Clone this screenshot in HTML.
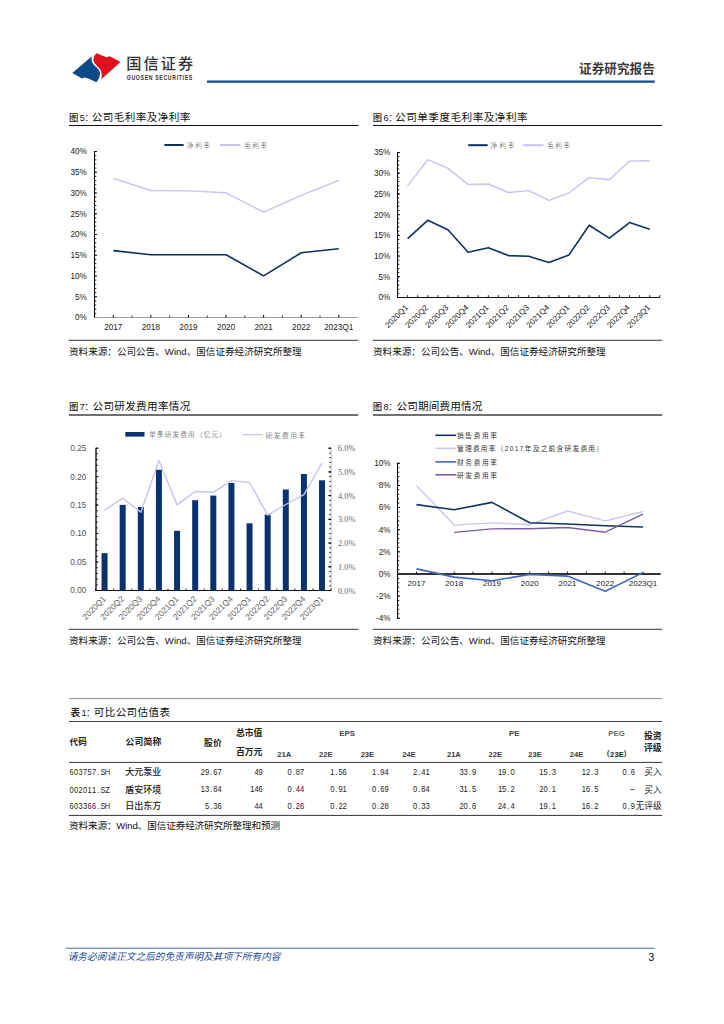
<!DOCTYPE html>
<html lang="zh-CN"><head><meta charset="utf-8"><title>国信证券 证券研究报告</title>
<style>
html,body{margin:0;padding:0;background:#fff;}
body{width:724px;height:1024px;overflow:hidden;position:relative;}
svg{position:absolute;left:0;top:0;display:block;}
text{white-space:pre;}
</style></head><body>
<svg width="724" height="1024" viewBox="0 0 724 1024">
<path d="M72.3,72.9 L91.9,56.3 C91.2,59 91.6,61.8 93.2,64 C95,66.3 98.2,68.2 99.6,71.4 C100.6,74.2 99.6,78.5 96.3,82.2 L89.6,79 L84.6,77.6 L82,78.6 Z" fill="#0d4a8a"/>
<path d="M96.6,53.3 L106.4,57.2 L109.8,56.2 L119.6,61.4 L120,62.6 L101,79.6 C102.2,76.6 102,72.6 100.6,70.2 C99.2,67.8 95.8,65.2 94.2,62.6 C92.7,59.9 93.6,55.6 96.6,53.3 Z" fill="#e0101e"/>
<text x="126.2" y="69.4" font-size="15.2" text-anchor="start" fill="#333" font-family="'Liberation Sans','Noto Sans CJK SC',sans-serif" font-weight="500" textLength="67" lengthAdjust="spacing">国信证券</text>
<text x="126.8" y="79.9" font-size="6.9" text-anchor="start" fill="#333" font-family="'Liberation Sans','Noto Sans CJK SC',sans-serif" font-weight="bold" textLength="66.1" lengthAdjust="spacingAndGlyphs" letter-spacing="0.9">GUOSEN SECURITIES</text>
<line x1="207" y1="81.6" x2="654.8" y2="81.6" stroke="#134a8e" stroke-width="2.2"/>
<text x="579.1" y="73.4" font-size="12.6" text-anchor="start" fill="#3a3a3a" font-family="'Liberation Sans','Noto Sans CJK SC',sans-serif" font-weight="bold" textLength="75.7" lengthAdjust="spacing">证券研究报告</text>
<text x="69" y="121.2" font-size="9.4" text-anchor="start" fill="#222" font-family="'Liberation Sans','Noto Sans CJK SC',sans-serif" font-weight="500">图</text>
<text x="79.8" y="121.2" font-size="9" text-anchor="start" fill="#111" font-family="'Liberation Sans','Noto Sans CJK SC',sans-serif" font-weight="normal">5</text>
<text x="84.5" y="121.2" font-size="9" text-anchor="start" fill="#111" font-family="'Liberation Sans','Noto Sans CJK SC',sans-serif" font-weight="normal">：</text>
<text x="91.8" y="121.2" font-size="10.6" text-anchor="start" fill="#111" font-family="'Liberation Sans','Noto Sans CJK SC',sans-serif" font-weight="normal" textLength="98.5" lengthAdjust="spacing">公司毛利率及净利率</text>
<line x1="69" y1="125.5" x2="358.5" y2="125.5" stroke="#111" stroke-width="1.2"/>
<line x1="164.4" y1="145" x2="183.6" y2="145" stroke="#0f2f5f" stroke-width="2"/>
<text x="187" y="148" font-size="6.7" text-anchor="start" fill="#333" font-family="'Liberation Sans','Noto Sans CJK SC',sans-serif" font-weight="300" textLength="23" lengthAdjust="spacing">净利率</text>
<line x1="219.9" y1="145" x2="240.3" y2="145" stroke="#c4c4f0" stroke-width="2"/>
<text x="244" y="148" font-size="6.7" text-anchor="start" fill="#333" font-family="'Liberation Sans','Noto Sans CJK SC',sans-serif" font-weight="300" textLength="23" lengthAdjust="spacing">毛利率</text>
<line x1="94.5" y1="151.5" x2="94.5" y2="317.5" stroke="#000" stroke-width="1"/>
<line x1="94.5" y1="151.5" x2="96.3" y2="151.5" stroke="#000" stroke-width="0.9"/>
<line x1="94.5" y1="155.65" x2="96.3" y2="155.65" stroke="#000" stroke-width="0.9"/>
<line x1="94.5" y1="159.8" x2="96.3" y2="159.8" stroke="#000" stroke-width="0.9"/>
<line x1="94.5" y1="163.95" x2="96.3" y2="163.95" stroke="#000" stroke-width="0.9"/>
<line x1="94.5" y1="168.1" x2="96.3" y2="168.1" stroke="#000" stroke-width="0.9"/>
<line x1="94.5" y1="172.25" x2="96.3" y2="172.25" stroke="#000" stroke-width="0.9"/>
<line x1="94.5" y1="176.4" x2="96.3" y2="176.4" stroke="#000" stroke-width="0.9"/>
<line x1="94.5" y1="180.55" x2="96.3" y2="180.55" stroke="#000" stroke-width="0.9"/>
<line x1="94.5" y1="184.7" x2="96.3" y2="184.7" stroke="#000" stroke-width="0.9"/>
<line x1="94.5" y1="188.85" x2="96.3" y2="188.85" stroke="#000" stroke-width="0.9"/>
<line x1="94.5" y1="193" x2="96.3" y2="193" stroke="#000" stroke-width="0.9"/>
<line x1="94.5" y1="197.15" x2="96.3" y2="197.15" stroke="#000" stroke-width="0.9"/>
<line x1="94.5" y1="201.3" x2="96.3" y2="201.3" stroke="#000" stroke-width="0.9"/>
<line x1="94.5" y1="205.45" x2="96.3" y2="205.45" stroke="#000" stroke-width="0.9"/>
<line x1="94.5" y1="209.6" x2="96.3" y2="209.6" stroke="#000" stroke-width="0.9"/>
<line x1="94.5" y1="213.75" x2="96.3" y2="213.75" stroke="#000" stroke-width="0.9"/>
<line x1="94.5" y1="217.9" x2="96.3" y2="217.9" stroke="#000" stroke-width="0.9"/>
<line x1="94.5" y1="222.05" x2="96.3" y2="222.05" stroke="#000" stroke-width="0.9"/>
<line x1="94.5" y1="226.2" x2="96.3" y2="226.2" stroke="#000" stroke-width="0.9"/>
<line x1="94.5" y1="230.35" x2="96.3" y2="230.35" stroke="#000" stroke-width="0.9"/>
<line x1="94.5" y1="234.5" x2="96.3" y2="234.5" stroke="#000" stroke-width="0.9"/>
<line x1="94.5" y1="238.65" x2="96.3" y2="238.65" stroke="#000" stroke-width="0.9"/>
<line x1="94.5" y1="242.8" x2="96.3" y2="242.8" stroke="#000" stroke-width="0.9"/>
<line x1="94.5" y1="246.95" x2="96.3" y2="246.95" stroke="#000" stroke-width="0.9"/>
<line x1="94.5" y1="251.1" x2="96.3" y2="251.1" stroke="#000" stroke-width="0.9"/>
<line x1="94.5" y1="255.25" x2="96.3" y2="255.25" stroke="#000" stroke-width="0.9"/>
<line x1="94.5" y1="259.4" x2="96.3" y2="259.4" stroke="#000" stroke-width="0.9"/>
<line x1="94.5" y1="263.55" x2="96.3" y2="263.55" stroke="#000" stroke-width="0.9"/>
<line x1="94.5" y1="267.7" x2="96.3" y2="267.7" stroke="#000" stroke-width="0.9"/>
<line x1="94.5" y1="271.85" x2="96.3" y2="271.85" stroke="#000" stroke-width="0.9"/>
<line x1="94.5" y1="276" x2="96.3" y2="276" stroke="#000" stroke-width="0.9"/>
<line x1="94.5" y1="280.15" x2="96.3" y2="280.15" stroke="#000" stroke-width="0.9"/>
<line x1="94.5" y1="284.3" x2="96.3" y2="284.3" stroke="#000" stroke-width="0.9"/>
<line x1="94.5" y1="288.45" x2="96.3" y2="288.45" stroke="#000" stroke-width="0.9"/>
<line x1="94.5" y1="292.6" x2="96.3" y2="292.6" stroke="#000" stroke-width="0.9"/>
<line x1="94.5" y1="296.75" x2="96.3" y2="296.75" stroke="#000" stroke-width="0.9"/>
<line x1="94.5" y1="300.9" x2="96.3" y2="300.9" stroke="#000" stroke-width="0.9"/>
<line x1="94.5" y1="305.05" x2="96.3" y2="305.05" stroke="#000" stroke-width="0.9"/>
<line x1="94.5" y1="309.2" x2="96.3" y2="309.2" stroke="#000" stroke-width="0.9"/>
<line x1="94.5" y1="313.35" x2="96.3" y2="313.35" stroke="#000" stroke-width="0.9"/>
<line x1="94.5" y1="317.5" x2="96.3" y2="317.5" stroke="#000" stroke-width="0.9"/>
<line x1="94" y1="151.5" x2="96.9" y2="151.5" stroke="#000" stroke-width="1"/>
<line x1="94" y1="172.25" x2="96.9" y2="172.25" stroke="#000" stroke-width="1"/>
<line x1="94" y1="193" x2="96.9" y2="193" stroke="#000" stroke-width="1"/>
<line x1="94" y1="213.75" x2="96.9" y2="213.75" stroke="#000" stroke-width="1"/>
<line x1="94" y1="234.5" x2="96.9" y2="234.5" stroke="#000" stroke-width="1"/>
<line x1="94" y1="255.25" x2="96.9" y2="255.25" stroke="#000" stroke-width="1"/>
<line x1="94" y1="276" x2="96.9" y2="276" stroke="#000" stroke-width="1"/>
<line x1="94" y1="296.75" x2="96.9" y2="296.75" stroke="#000" stroke-width="1"/>
<line x1="94" y1="317.5" x2="96.9" y2="317.5" stroke="#000" stroke-width="1"/>
<line x1="94.5" y1="317.5" x2="357.6" y2="317.5" stroke="#9a9a9a" stroke-width="1"/>
<line x1="132.09" y1="317.5" x2="132.09" y2="315.5" stroke="#000" stroke-width="0.8"/>
<line x1="169.67" y1="317.5" x2="169.67" y2="315.5" stroke="#000" stroke-width="0.8"/>
<line x1="207.26" y1="317.5" x2="207.26" y2="315.5" stroke="#000" stroke-width="0.8"/>
<line x1="244.84" y1="317.5" x2="244.84" y2="315.5" stroke="#000" stroke-width="0.8"/>
<line x1="282.43" y1="317.5" x2="282.43" y2="315.5" stroke="#000" stroke-width="0.8"/>
<line x1="320.01" y1="317.5" x2="320.01" y2="315.5" stroke="#000" stroke-width="0.8"/>
<line x1="113.29" y1="317.5" x2="113.29" y2="315" stroke="#000" stroke-width="1"/>
<line x1="150.88" y1="317.5" x2="150.88" y2="315" stroke="#000" stroke-width="1"/>
<line x1="188.46" y1="317.5" x2="188.46" y2="315" stroke="#000" stroke-width="1"/>
<line x1="226.05" y1="317.5" x2="226.05" y2="315" stroke="#000" stroke-width="1"/>
<line x1="263.64" y1="317.5" x2="263.64" y2="315" stroke="#000" stroke-width="1"/>
<line x1="301.22" y1="317.5" x2="301.22" y2="315" stroke="#000" stroke-width="1"/>
<line x1="338.81" y1="317.5" x2="338.81" y2="315" stroke="#000" stroke-width="1"/>
<text x="86.9" y="320.4" font-size="8.2" text-anchor="end" fill="#222" font-family="'Liberation Sans','Noto Sans CJK SC',sans-serif" font-weight="normal">0%</text>
<text x="86.9" y="299.65" font-size="8.2" text-anchor="end" fill="#222" font-family="'Liberation Sans','Noto Sans CJK SC',sans-serif" font-weight="normal">5%</text>
<text x="86.9" y="278.9" font-size="8.2" text-anchor="end" fill="#222" font-family="'Liberation Sans','Noto Sans CJK SC',sans-serif" font-weight="normal">10%</text>
<text x="86.9" y="258.15" font-size="8.2" text-anchor="end" fill="#222" font-family="'Liberation Sans','Noto Sans CJK SC',sans-serif" font-weight="normal">15%</text>
<text x="86.9" y="237.4" font-size="8.2" text-anchor="end" fill="#222" font-family="'Liberation Sans','Noto Sans CJK SC',sans-serif" font-weight="normal">20%</text>
<text x="86.9" y="216.65" font-size="8.2" text-anchor="end" fill="#222" font-family="'Liberation Sans','Noto Sans CJK SC',sans-serif" font-weight="normal">25%</text>
<text x="86.9" y="195.9" font-size="8.2" text-anchor="end" fill="#222" font-family="'Liberation Sans','Noto Sans CJK SC',sans-serif" font-weight="normal">30%</text>
<text x="86.9" y="175.15" font-size="8.2" text-anchor="end" fill="#222" font-family="'Liberation Sans','Noto Sans CJK SC',sans-serif" font-weight="normal">35%</text>
<text x="86.9" y="154.4" font-size="8.2" text-anchor="end" fill="#222" font-family="'Liberation Sans','Noto Sans CJK SC',sans-serif" font-weight="normal">40%</text>
<text x="113.29" y="329.5" font-size="8.2" text-anchor="middle" fill="#222" font-family="'Liberation Sans','Noto Sans CJK SC',sans-serif" font-weight="normal">2017</text>
<text x="150.88" y="329.5" font-size="8.2" text-anchor="middle" fill="#222" font-family="'Liberation Sans','Noto Sans CJK SC',sans-serif" font-weight="normal">2018</text>
<text x="188.46" y="329.5" font-size="8.2" text-anchor="middle" fill="#222" font-family="'Liberation Sans','Noto Sans CJK SC',sans-serif" font-weight="normal">2019</text>
<text x="226.05" y="329.5" font-size="8.2" text-anchor="middle" fill="#222" font-family="'Liberation Sans','Noto Sans CJK SC',sans-serif" font-weight="normal">2020</text>
<text x="263.64" y="329.5" font-size="8.2" text-anchor="middle" fill="#222" font-family="'Liberation Sans','Noto Sans CJK SC',sans-serif" font-weight="normal">2021</text>
<text x="301.22" y="329.5" font-size="8.2" text-anchor="middle" fill="#222" font-family="'Liberation Sans','Noto Sans CJK SC',sans-serif" font-weight="normal">2022</text>
<text x="338.81" y="329.5" font-size="8.2" text-anchor="middle" fill="#222" font-family="'Liberation Sans','Noto Sans CJK SC',sans-serif" font-weight="normal">2023Q1</text>
<polyline points="113.29,178.4 150.88,190.5 188.46,190.9 226.05,192.8 263.64,212.1 301.22,195.4 338.81,180.4" fill="none" stroke="#c4c4f0" stroke-width="1.4" stroke-linejoin="round"/>
<polyline points="113.29,250.6 150.88,254.7 188.46,254.7 226.05,254.7 263.64,275.9 301.22,252.8 338.81,248.7" fill="none" stroke="#0f2f5f" stroke-width="1.6" stroke-linejoin="round"/>
<line x1="68.7" y1="340.3" x2="358.2" y2="340.3" stroke="#333" stroke-width="1"/>
<text x="69" y="355" font-size="9.6" text-anchor="start" fill="#111" font-family="'Liberation Sans','Noto Sans CJK SC',sans-serif" font-weight="normal" textLength="232.7" lengthAdjust="spacing">资料来源：公司公告、Wind、国信证券经济研究所整理</text>
<text x="372.7" y="121.2" font-size="9.4" text-anchor="start" fill="#222" font-family="'Liberation Sans','Noto Sans CJK SC',sans-serif" font-weight="500">图</text>
<text x="383.5" y="121.2" font-size="9" text-anchor="start" fill="#111" font-family="'Liberation Sans','Noto Sans CJK SC',sans-serif" font-weight="normal">6</text>
<text x="388.2" y="121.2" font-size="9" text-anchor="start" fill="#111" font-family="'Liberation Sans','Noto Sans CJK SC',sans-serif" font-weight="normal">：</text>
<text x="395.1" y="121.2" font-size="10.6" text-anchor="start" fill="#111" font-family="'Liberation Sans','Noto Sans CJK SC',sans-serif" font-weight="normal" textLength="132.5" lengthAdjust="spacing">公司单季度毛利率及净利率</text>
<line x1="373" y1="125.5" x2="662.1" y2="125.5" stroke="#111" stroke-width="1.2"/>
<line x1="468.2" y1="145.2" x2="487.6" y2="145.2" stroke="#0f2f5f" stroke-width="2"/>
<text x="490.5" y="148.2" font-size="6.7" text-anchor="start" fill="#333" font-family="'Liberation Sans','Noto Sans CJK SC',sans-serif" font-weight="300" textLength="24" lengthAdjust="spacing">净利率</text>
<line x1="523.1" y1="145.2" x2="543.5" y2="145.2" stroke="#c4c4f0" stroke-width="2"/>
<text x="547" y="148.2" font-size="6.7" text-anchor="start" fill="#333" font-family="'Liberation Sans','Noto Sans CJK SC',sans-serif" font-weight="300" textLength="23" lengthAdjust="spacing">毛利率</text>
<line x1="397.5" y1="152.5" x2="397.5" y2="297.5" stroke="#000" stroke-width="1"/>
<line x1="397.5" y1="152.5" x2="399.3" y2="152.5" stroke="#000" stroke-width="0.9"/>
<line x1="397.5" y1="156.64" x2="399.3" y2="156.64" stroke="#000" stroke-width="0.9"/>
<line x1="397.5" y1="160.79" x2="399.3" y2="160.79" stroke="#000" stroke-width="0.9"/>
<line x1="397.5" y1="164.93" x2="399.3" y2="164.93" stroke="#000" stroke-width="0.9"/>
<line x1="397.5" y1="169.07" x2="399.3" y2="169.07" stroke="#000" stroke-width="0.9"/>
<line x1="397.5" y1="173.21" x2="399.3" y2="173.21" stroke="#000" stroke-width="0.9"/>
<line x1="397.5" y1="177.36" x2="399.3" y2="177.36" stroke="#000" stroke-width="0.9"/>
<line x1="397.5" y1="181.5" x2="399.3" y2="181.5" stroke="#000" stroke-width="0.9"/>
<line x1="397.5" y1="185.64" x2="399.3" y2="185.64" stroke="#000" stroke-width="0.9"/>
<line x1="397.5" y1="189.79" x2="399.3" y2="189.79" stroke="#000" stroke-width="0.9"/>
<line x1="397.5" y1="193.93" x2="399.3" y2="193.93" stroke="#000" stroke-width="0.9"/>
<line x1="397.5" y1="198.07" x2="399.3" y2="198.07" stroke="#000" stroke-width="0.9"/>
<line x1="397.5" y1="202.21" x2="399.3" y2="202.21" stroke="#000" stroke-width="0.9"/>
<line x1="397.5" y1="206.36" x2="399.3" y2="206.36" stroke="#000" stroke-width="0.9"/>
<line x1="397.5" y1="210.5" x2="399.3" y2="210.5" stroke="#000" stroke-width="0.9"/>
<line x1="397.5" y1="214.64" x2="399.3" y2="214.64" stroke="#000" stroke-width="0.9"/>
<line x1="397.5" y1="218.79" x2="399.3" y2="218.79" stroke="#000" stroke-width="0.9"/>
<line x1="397.5" y1="222.93" x2="399.3" y2="222.93" stroke="#000" stroke-width="0.9"/>
<line x1="397.5" y1="227.07" x2="399.3" y2="227.07" stroke="#000" stroke-width="0.9"/>
<line x1="397.5" y1="231.21" x2="399.3" y2="231.21" stroke="#000" stroke-width="0.9"/>
<line x1="397.5" y1="235.36" x2="399.3" y2="235.36" stroke="#000" stroke-width="0.9"/>
<line x1="397.5" y1="239.5" x2="399.3" y2="239.5" stroke="#000" stroke-width="0.9"/>
<line x1="397.5" y1="243.64" x2="399.3" y2="243.64" stroke="#000" stroke-width="0.9"/>
<line x1="397.5" y1="247.79" x2="399.3" y2="247.79" stroke="#000" stroke-width="0.9"/>
<line x1="397.5" y1="251.93" x2="399.3" y2="251.93" stroke="#000" stroke-width="0.9"/>
<line x1="397.5" y1="256.07" x2="399.3" y2="256.07" stroke="#000" stroke-width="0.9"/>
<line x1="397.5" y1="260.21" x2="399.3" y2="260.21" stroke="#000" stroke-width="0.9"/>
<line x1="397.5" y1="264.36" x2="399.3" y2="264.36" stroke="#000" stroke-width="0.9"/>
<line x1="397.5" y1="268.5" x2="399.3" y2="268.5" stroke="#000" stroke-width="0.9"/>
<line x1="397.5" y1="272.64" x2="399.3" y2="272.64" stroke="#000" stroke-width="0.9"/>
<line x1="397.5" y1="276.79" x2="399.3" y2="276.79" stroke="#000" stroke-width="0.9"/>
<line x1="397.5" y1="280.93" x2="399.3" y2="280.93" stroke="#000" stroke-width="0.9"/>
<line x1="397.5" y1="285.07" x2="399.3" y2="285.07" stroke="#000" stroke-width="0.9"/>
<line x1="397.5" y1="289.21" x2="399.3" y2="289.21" stroke="#000" stroke-width="0.9"/>
<line x1="397.5" y1="293.36" x2="399.3" y2="293.36" stroke="#000" stroke-width="0.9"/>
<line x1="397.5" y1="297.5" x2="399.3" y2="297.5" stroke="#000" stroke-width="0.9"/>
<line x1="397" y1="152.5" x2="399.9" y2="152.5" stroke="#000" stroke-width="1"/>
<line x1="397" y1="173.21" x2="399.9" y2="173.21" stroke="#000" stroke-width="1"/>
<line x1="397" y1="193.93" x2="399.9" y2="193.93" stroke="#000" stroke-width="1"/>
<line x1="397" y1="214.64" x2="399.9" y2="214.64" stroke="#000" stroke-width="1"/>
<line x1="397" y1="235.36" x2="399.9" y2="235.36" stroke="#000" stroke-width="1"/>
<line x1="397" y1="256.07" x2="399.9" y2="256.07" stroke="#000" stroke-width="1"/>
<line x1="397" y1="276.79" x2="399.9" y2="276.79" stroke="#000" stroke-width="1"/>
<line x1="397" y1="297.5" x2="399.9" y2="297.5" stroke="#000" stroke-width="1"/>
<line x1="397.5" y1="297.5" x2="659.8" y2="297.5" stroke="#111" stroke-width="1.1"/>
<line x1="397.5" y1="297.5" x2="397.5" y2="295.2" stroke="#000" stroke-width="0.9"/>
<line x1="407.59" y1="297.5" x2="407.59" y2="295.2" stroke="#000" stroke-width="0.9"/>
<line x1="417.68" y1="297.5" x2="417.68" y2="295.2" stroke="#000" stroke-width="0.9"/>
<line x1="427.77" y1="297.5" x2="427.77" y2="295.2" stroke="#000" stroke-width="0.9"/>
<line x1="437.85" y1="297.5" x2="437.85" y2="295.2" stroke="#000" stroke-width="0.9"/>
<line x1="447.94" y1="297.5" x2="447.94" y2="295.2" stroke="#000" stroke-width="0.9"/>
<line x1="458.03" y1="297.5" x2="458.03" y2="295.2" stroke="#000" stroke-width="0.9"/>
<line x1="468.12" y1="297.5" x2="468.12" y2="295.2" stroke="#000" stroke-width="0.9"/>
<line x1="478.21" y1="297.5" x2="478.21" y2="295.2" stroke="#000" stroke-width="0.9"/>
<line x1="488.3" y1="297.5" x2="488.3" y2="295.2" stroke="#000" stroke-width="0.9"/>
<line x1="498.38" y1="297.5" x2="498.38" y2="295.2" stroke="#000" stroke-width="0.9"/>
<line x1="508.47" y1="297.5" x2="508.47" y2="295.2" stroke="#000" stroke-width="0.9"/>
<line x1="518.56" y1="297.5" x2="518.56" y2="295.2" stroke="#000" stroke-width="0.9"/>
<line x1="528.65" y1="297.5" x2="528.65" y2="295.2" stroke="#000" stroke-width="0.9"/>
<line x1="538.74" y1="297.5" x2="538.74" y2="295.2" stroke="#000" stroke-width="0.9"/>
<line x1="548.83" y1="297.5" x2="548.83" y2="295.2" stroke="#000" stroke-width="0.9"/>
<line x1="558.92" y1="297.5" x2="558.92" y2="295.2" stroke="#000" stroke-width="0.9"/>
<line x1="569" y1="297.5" x2="569" y2="295.2" stroke="#000" stroke-width="0.9"/>
<line x1="579.09" y1="297.5" x2="579.09" y2="295.2" stroke="#000" stroke-width="0.9"/>
<line x1="589.18" y1="297.5" x2="589.18" y2="295.2" stroke="#000" stroke-width="0.9"/>
<line x1="599.27" y1="297.5" x2="599.27" y2="295.2" stroke="#000" stroke-width="0.9"/>
<line x1="609.36" y1="297.5" x2="609.36" y2="295.2" stroke="#000" stroke-width="0.9"/>
<line x1="619.45" y1="297.5" x2="619.45" y2="295.2" stroke="#000" stroke-width="0.9"/>
<line x1="629.53" y1="297.5" x2="629.53" y2="295.2" stroke="#000" stroke-width="0.9"/>
<line x1="639.62" y1="297.5" x2="639.62" y2="295.2" stroke="#000" stroke-width="0.9"/>
<line x1="649.71" y1="297.5" x2="649.71" y2="295.2" stroke="#000" stroke-width="0.9"/>
<line x1="659.8" y1="297.5" x2="659.8" y2="295.2" stroke="#000" stroke-width="0.9"/>
<text x="390.4" y="300.4" font-size="8.2" text-anchor="end" fill="#222" font-family="'Liberation Sans','Noto Sans CJK SC',sans-serif" font-weight="normal">0%</text>
<text x="390.4" y="279.69" font-size="8.2" text-anchor="end" fill="#222" font-family="'Liberation Sans','Noto Sans CJK SC',sans-serif" font-weight="normal">5%</text>
<text x="390.4" y="258.97" font-size="8.2" text-anchor="end" fill="#222" font-family="'Liberation Sans','Noto Sans CJK SC',sans-serif" font-weight="normal">10%</text>
<text x="390.4" y="238.26" font-size="8.2" text-anchor="end" fill="#222" font-family="'Liberation Sans','Noto Sans CJK SC',sans-serif" font-weight="normal">15%</text>
<text x="390.4" y="217.54" font-size="8.2" text-anchor="end" fill="#222" font-family="'Liberation Sans','Noto Sans CJK SC',sans-serif" font-weight="normal">20%</text>
<text x="390.4" y="196.83" font-size="8.2" text-anchor="end" fill="#222" font-family="'Liberation Sans','Noto Sans CJK SC',sans-serif" font-weight="normal">25%</text>
<text x="390.4" y="176.11" font-size="8.2" text-anchor="end" fill="#222" font-family="'Liberation Sans','Noto Sans CJK SC',sans-serif" font-weight="normal">30%</text>
<text x="390.4" y="155.4" font-size="8.2" text-anchor="end" fill="#222" font-family="'Liberation Sans','Noto Sans CJK SC',sans-serif" font-weight="normal">35%</text>
<text transform="translate(408.59,308.1) rotate(-45)" x="0" y="0" font-size="8.1" text-anchor="end" fill="#222" font-family="'Liberation Sans','Noto Sans CJK SC',sans-serif">2020Q1</text>
<text transform="translate(428.77,308.1) rotate(-45)" x="0" y="0" font-size="8.1" text-anchor="end" fill="#222" font-family="'Liberation Sans','Noto Sans CJK SC',sans-serif">2020Q2</text>
<text transform="translate(448.94,308.1) rotate(-45)" x="0" y="0" font-size="8.1" text-anchor="end" fill="#222" font-family="'Liberation Sans','Noto Sans CJK SC',sans-serif">2020Q3</text>
<text transform="translate(469.12,308.1) rotate(-45)" x="0" y="0" font-size="8.1" text-anchor="end" fill="#222" font-family="'Liberation Sans','Noto Sans CJK SC',sans-serif">2020Q4</text>
<text transform="translate(489.3,308.1) rotate(-45)" x="0" y="0" font-size="8.1" text-anchor="end" fill="#222" font-family="'Liberation Sans','Noto Sans CJK SC',sans-serif">2021Q1</text>
<text transform="translate(509.47,308.1) rotate(-45)" x="0" y="0" font-size="8.1" text-anchor="end" fill="#222" font-family="'Liberation Sans','Noto Sans CJK SC',sans-serif">2021Q2</text>
<text transform="translate(529.65,308.1) rotate(-45)" x="0" y="0" font-size="8.1" text-anchor="end" fill="#222" font-family="'Liberation Sans','Noto Sans CJK SC',sans-serif">2021Q3</text>
<text transform="translate(549.83,308.1) rotate(-45)" x="0" y="0" font-size="8.1" text-anchor="end" fill="#222" font-family="'Liberation Sans','Noto Sans CJK SC',sans-serif">2021Q4</text>
<text transform="translate(570,308.1) rotate(-45)" x="0" y="0" font-size="8.1" text-anchor="end" fill="#222" font-family="'Liberation Sans','Noto Sans CJK SC',sans-serif">2022Q1</text>
<text transform="translate(590.18,308.1) rotate(-45)" x="0" y="0" font-size="8.1" text-anchor="end" fill="#222" font-family="'Liberation Sans','Noto Sans CJK SC',sans-serif">2022Q2</text>
<text transform="translate(610.36,308.1) rotate(-45)" x="0" y="0" font-size="8.1" text-anchor="end" fill="#222" font-family="'Liberation Sans','Noto Sans CJK SC',sans-serif">2022Q3</text>
<text transform="translate(630.53,308.1) rotate(-45)" x="0" y="0" font-size="8.1" text-anchor="end" fill="#222" font-family="'Liberation Sans','Noto Sans CJK SC',sans-serif">2022Q4</text>
<text transform="translate(650.71,308.1) rotate(-45)" x="0" y="0" font-size="8.1" text-anchor="end" fill="#222" font-family="'Liberation Sans','Noto Sans CJK SC',sans-serif">2023Q1</text>
<polyline points="407.59,185.9 427.77,159.7 447.94,168.4 468.12,184.5 488.3,184 508.47,192.5 528.65,190.6 548.83,200.4 569,192.8 589.18,177.6 609.36,179.7 629.53,161.1 649.71,160.7" fill="none" stroke="#c4c4f0" stroke-width="1.4" stroke-linejoin="round"/>
<polyline points="407.59,238.7 427.77,220.3 447.94,229.8 468.12,252.2 488.3,247.7 508.47,255.6 528.65,256.2 548.83,262.6 569,254.9 589.18,225.3 609.36,238.1 629.53,222.6 649.71,229.2" fill="none" stroke="#0f2f5f" stroke-width="1.6" stroke-linejoin="round"/>
<line x1="372.8" y1="340.3" x2="662.1" y2="340.3" stroke="#333" stroke-width="1"/>
<text x="373" y="355" font-size="9.6" text-anchor="start" fill="#111" font-family="'Liberation Sans','Noto Sans CJK SC',sans-serif" font-weight="normal" textLength="232.7" lengthAdjust="spacing">资料来源：公司公告、Wind、国信证券经济研究所整理</text>
<text x="69" y="410.4" font-size="9.4" text-anchor="start" fill="#222" font-family="'Liberation Sans','Noto Sans CJK SC',sans-serif" font-weight="500">图</text>
<text x="79.8" y="410.4" font-size="9" text-anchor="start" fill="#111" font-family="'Liberation Sans','Noto Sans CJK SC',sans-serif" font-weight="normal">7</text>
<text x="84.5" y="410.4" font-size="9" text-anchor="start" fill="#111" font-family="'Liberation Sans','Noto Sans CJK SC',sans-serif" font-weight="normal">：</text>
<text x="92.5" y="410.4" font-size="10.6" text-anchor="start" fill="#111" font-family="'Liberation Sans','Noto Sans CJK SC',sans-serif" font-weight="normal" textLength="97.8" lengthAdjust="spacing">公司研发费用率情况</text>
<line x1="69" y1="415" x2="358.2" y2="415" stroke="#707070" stroke-width="2"/>
<rect x="125.3" y="432" width="19.2" height="4.6" fill="#0a3270"/>
<text x="149" y="437.4" font-size="6.7" text-anchor="start" fill="#333" font-family="'Liberation Sans','Noto Sans CJK SC',sans-serif" font-weight="300" textLength="77" lengthAdjust="spacing">单季研发费用（亿元）</text>
<line x1="243" y1="434.6" x2="263" y2="434.6" stroke="#c4c4f0" stroke-width="1.3"/>
<text x="265.6" y="437.6" font-size="6.7" text-anchor="start" fill="#333" font-family="'Liberation Sans','Noto Sans CJK SC',sans-serif" font-weight="300" textLength="39.4" lengthAdjust="spacing">研发费用率</text>
<line x1="96" y1="448.2" x2="96" y2="590.5" stroke="#333" stroke-width="1.6"/>
<line x1="96" y1="448.2" x2="97.8" y2="448.2" stroke="#000" stroke-width="0.9"/>
<line x1="96" y1="453.89" x2="97.8" y2="453.89" stroke="#000" stroke-width="0.9"/>
<line x1="96" y1="459.58" x2="97.8" y2="459.58" stroke="#000" stroke-width="0.9"/>
<line x1="96" y1="465.28" x2="97.8" y2="465.28" stroke="#000" stroke-width="0.9"/>
<line x1="96" y1="470.97" x2="97.8" y2="470.97" stroke="#000" stroke-width="0.9"/>
<line x1="96" y1="476.66" x2="97.8" y2="476.66" stroke="#000" stroke-width="0.9"/>
<line x1="96" y1="482.35" x2="97.8" y2="482.35" stroke="#000" stroke-width="0.9"/>
<line x1="96" y1="488.04" x2="97.8" y2="488.04" stroke="#000" stroke-width="0.9"/>
<line x1="96" y1="493.74" x2="97.8" y2="493.74" stroke="#000" stroke-width="0.9"/>
<line x1="96" y1="499.43" x2="97.8" y2="499.43" stroke="#000" stroke-width="0.9"/>
<line x1="96" y1="505.12" x2="97.8" y2="505.12" stroke="#000" stroke-width="0.9"/>
<line x1="96" y1="510.81" x2="97.8" y2="510.81" stroke="#000" stroke-width="0.9"/>
<line x1="96" y1="516.5" x2="97.8" y2="516.5" stroke="#000" stroke-width="0.9"/>
<line x1="96" y1="522.2" x2="97.8" y2="522.2" stroke="#000" stroke-width="0.9"/>
<line x1="96" y1="527.89" x2="97.8" y2="527.89" stroke="#000" stroke-width="0.9"/>
<line x1="96" y1="533.58" x2="97.8" y2="533.58" stroke="#000" stroke-width="0.9"/>
<line x1="96" y1="539.27" x2="97.8" y2="539.27" stroke="#000" stroke-width="0.9"/>
<line x1="96" y1="544.96" x2="97.8" y2="544.96" stroke="#000" stroke-width="0.9"/>
<line x1="96" y1="550.66" x2="97.8" y2="550.66" stroke="#000" stroke-width="0.9"/>
<line x1="96" y1="556.35" x2="97.8" y2="556.35" stroke="#000" stroke-width="0.9"/>
<line x1="96" y1="562.04" x2="97.8" y2="562.04" stroke="#000" stroke-width="0.9"/>
<line x1="96" y1="567.73" x2="97.8" y2="567.73" stroke="#000" stroke-width="0.9"/>
<line x1="96" y1="573.42" x2="97.8" y2="573.42" stroke="#000" stroke-width="0.9"/>
<line x1="96" y1="579.12" x2="97.8" y2="579.12" stroke="#000" stroke-width="0.9"/>
<line x1="96" y1="584.81" x2="97.8" y2="584.81" stroke="#000" stroke-width="0.9"/>
<line x1="96" y1="590.5" x2="97.8" y2="590.5" stroke="#000" stroke-width="0.9"/>
<line x1="95.5" y1="448.2" x2="98.4" y2="448.2" stroke="#000" stroke-width="1"/>
<line x1="95.5" y1="476.66" x2="98.4" y2="476.66" stroke="#000" stroke-width="1"/>
<line x1="95.5" y1="505.12" x2="98.4" y2="505.12" stroke="#000" stroke-width="1"/>
<line x1="95.5" y1="533.58" x2="98.4" y2="533.58" stroke="#000" stroke-width="1"/>
<line x1="95.5" y1="562.04" x2="98.4" y2="562.04" stroke="#000" stroke-width="1"/>
<line x1="95.5" y1="590.5" x2="98.4" y2="590.5" stroke="#000" stroke-width="1"/>
<line x1="331.1" y1="448.2" x2="331.1" y2="590.5" stroke="#bbb" stroke-width="1"/>
<line x1="330.8" y1="448.2" x2="329.3" y2="448.2" stroke="#111" stroke-width="1"/>
<line x1="330.8" y1="452.94" x2="329.3" y2="452.94" stroke="#111" stroke-width="1"/>
<line x1="330.8" y1="457.69" x2="329.3" y2="457.69" stroke="#111" stroke-width="1"/>
<line x1="330.8" y1="462.43" x2="329.3" y2="462.43" stroke="#111" stroke-width="1"/>
<line x1="330.8" y1="467.17" x2="329.3" y2="467.17" stroke="#111" stroke-width="1"/>
<line x1="330.8" y1="471.92" x2="329.3" y2="471.92" stroke="#111" stroke-width="1"/>
<line x1="330.8" y1="476.66" x2="329.3" y2="476.66" stroke="#111" stroke-width="1"/>
<line x1="330.8" y1="481.4" x2="329.3" y2="481.4" stroke="#111" stroke-width="1"/>
<line x1="330.8" y1="486.15" x2="329.3" y2="486.15" stroke="#111" stroke-width="1"/>
<line x1="330.8" y1="490.89" x2="329.3" y2="490.89" stroke="#111" stroke-width="1"/>
<line x1="330.8" y1="495.63" x2="329.3" y2="495.63" stroke="#111" stroke-width="1"/>
<line x1="330.8" y1="500.38" x2="329.3" y2="500.38" stroke="#111" stroke-width="1"/>
<line x1="330.8" y1="505.12" x2="329.3" y2="505.12" stroke="#111" stroke-width="1"/>
<line x1="330.8" y1="509.86" x2="329.3" y2="509.86" stroke="#111" stroke-width="1"/>
<line x1="330.8" y1="514.61" x2="329.3" y2="514.61" stroke="#111" stroke-width="1"/>
<line x1="330.8" y1="519.35" x2="329.3" y2="519.35" stroke="#111" stroke-width="1"/>
<line x1="330.8" y1="524.09" x2="329.3" y2="524.09" stroke="#111" stroke-width="1"/>
<line x1="330.8" y1="528.84" x2="329.3" y2="528.84" stroke="#111" stroke-width="1"/>
<line x1="330.8" y1="533.58" x2="329.3" y2="533.58" stroke="#111" stroke-width="1"/>
<line x1="330.8" y1="538.32" x2="329.3" y2="538.32" stroke="#111" stroke-width="1"/>
<line x1="330.8" y1="543.07" x2="329.3" y2="543.07" stroke="#111" stroke-width="1"/>
<line x1="330.8" y1="547.81" x2="329.3" y2="547.81" stroke="#111" stroke-width="1"/>
<line x1="330.8" y1="552.55" x2="329.3" y2="552.55" stroke="#111" stroke-width="1"/>
<line x1="330.8" y1="557.3" x2="329.3" y2="557.3" stroke="#111" stroke-width="1"/>
<line x1="330.8" y1="562.04" x2="329.3" y2="562.04" stroke="#111" stroke-width="1"/>
<line x1="330.8" y1="566.78" x2="329.3" y2="566.78" stroke="#111" stroke-width="1"/>
<line x1="330.8" y1="571.53" x2="329.3" y2="571.53" stroke="#111" stroke-width="1"/>
<line x1="330.8" y1="576.27" x2="329.3" y2="576.27" stroke="#111" stroke-width="1"/>
<line x1="330.8" y1="581.01" x2="329.3" y2="581.01" stroke="#111" stroke-width="1"/>
<line x1="330.8" y1="585.76" x2="329.3" y2="585.76" stroke="#111" stroke-width="1"/>
<line x1="330.8" y1="590.5" x2="329.3" y2="590.5" stroke="#111" stroke-width="1"/>
<line x1="331.1" y1="448.2" x2="328.3" y2="448.2" stroke="#000" stroke-width="1.1"/>
<line x1="331.1" y1="471.92" x2="328.3" y2="471.92" stroke="#000" stroke-width="1.1"/>
<line x1="331.1" y1="495.63" x2="328.3" y2="495.63" stroke="#000" stroke-width="1.1"/>
<line x1="331.1" y1="519.35" x2="328.3" y2="519.35" stroke="#000" stroke-width="1.1"/>
<line x1="331.1" y1="543.07" x2="328.3" y2="543.07" stroke="#000" stroke-width="1.1"/>
<line x1="331.1" y1="566.78" x2="328.3" y2="566.78" stroke="#000" stroke-width="1.1"/>
<line x1="331.1" y1="590.5" x2="328.3" y2="590.5" stroke="#000" stroke-width="1.1"/>
<line x1="96" y1="590.5" x2="331.1" y2="590.5" stroke="#111" stroke-width="1.1"/>
<line x1="95.5" y1="590.5" x2="95.5" y2="588.5" stroke="#000" stroke-width="0.9"/>
<line x1="113.62" y1="590.5" x2="113.62" y2="588.5" stroke="#000" stroke-width="0.9"/>
<line x1="131.75" y1="590.5" x2="131.75" y2="588.5" stroke="#000" stroke-width="0.9"/>
<line x1="149.87" y1="590.5" x2="149.87" y2="588.5" stroke="#000" stroke-width="0.9"/>
<line x1="167.99" y1="590.5" x2="167.99" y2="588.5" stroke="#000" stroke-width="0.9"/>
<line x1="186.12" y1="590.5" x2="186.12" y2="588.5" stroke="#000" stroke-width="0.9"/>
<line x1="204.24" y1="590.5" x2="204.24" y2="588.5" stroke="#000" stroke-width="0.9"/>
<line x1="222.36" y1="590.5" x2="222.36" y2="588.5" stroke="#000" stroke-width="0.9"/>
<line x1="240.48" y1="590.5" x2="240.48" y2="588.5" stroke="#000" stroke-width="0.9"/>
<line x1="258.61" y1="590.5" x2="258.61" y2="588.5" stroke="#000" stroke-width="0.9"/>
<line x1="276.73" y1="590.5" x2="276.73" y2="588.5" stroke="#000" stroke-width="0.9"/>
<line x1="294.85" y1="590.5" x2="294.85" y2="588.5" stroke="#000" stroke-width="0.9"/>
<line x1="312.98" y1="590.5" x2="312.98" y2="588.5" stroke="#000" stroke-width="0.9"/>
<line x1="331.1" y1="590.5" x2="331.1" y2="588.5" stroke="#000" stroke-width="0.9"/>
<text x="86.3" y="593.4" font-size="8.2" text-anchor="end" fill="#555" font-family="'Liberation Sans','Noto Sans CJK SC',sans-serif" font-weight="normal">0.00</text>
<text x="86.3" y="564.94" font-size="8.2" text-anchor="end" fill="#555" font-family="'Liberation Sans','Noto Sans CJK SC',sans-serif" font-weight="normal">0.05</text>
<text x="86.3" y="536.48" font-size="8.2" text-anchor="end" fill="#555" font-family="'Liberation Sans','Noto Sans CJK SC',sans-serif" font-weight="normal">0.10</text>
<text x="86.3" y="508.02" font-size="8.2" text-anchor="end" fill="#555" font-family="'Liberation Sans','Noto Sans CJK SC',sans-serif" font-weight="normal">0.15</text>
<text x="86.3" y="479.56" font-size="8.2" text-anchor="end" fill="#555" font-family="'Liberation Sans','Noto Sans CJK SC',sans-serif" font-weight="normal">0.20</text>
<text x="86.3" y="451.1" font-size="8.2" text-anchor="end" fill="#555" font-family="'Liberation Sans','Noto Sans CJK SC',sans-serif" font-weight="normal">0.25</text>
<text x="338" y="593.5" font-size="8.4" text-anchor="start" fill="#666" font-family="'Liberation Serif','Noto Serif CJK SC',serif" font-weight="normal">0.0%</text>
<text x="338" y="569.78" font-size="8.4" text-anchor="start" fill="#666" font-family="'Liberation Serif','Noto Serif CJK SC',serif" font-weight="normal">1.0%</text>
<text x="338" y="546.07" font-size="8.4" text-anchor="start" fill="#666" font-family="'Liberation Serif','Noto Serif CJK SC',serif" font-weight="normal">2.0%</text>
<text x="338" y="522.35" font-size="8.4" text-anchor="start" fill="#666" font-family="'Liberation Serif','Noto Serif CJK SC',serif" font-weight="normal">3.0%</text>
<text x="338" y="498.63" font-size="8.4" text-anchor="start" fill="#666" font-family="'Liberation Serif','Noto Serif CJK SC',serif" font-weight="normal">4.0%</text>
<text x="338" y="474.92" font-size="8.4" text-anchor="start" fill="#666" font-family="'Liberation Serif','Noto Serif CJK SC',serif" font-weight="normal">5.0%</text>
<text x="338" y="451.2" font-size="8.4" text-anchor="start" fill="#666" font-family="'Liberation Serif','Noto Serif CJK SC',serif" font-weight="normal">6.0%</text>
<rect x="101.56" y="553.1" width="6" height="37.4" fill="#0a3270"/>
<rect x="119.68" y="504.9" width="6" height="85.6" fill="#0a3270"/>
<rect x="137.81" y="507" width="6" height="83.5" fill="#0a3270"/>
<rect x="155.93" y="469.8" width="6" height="120.7" fill="#0a3270"/>
<rect x="174.05" y="530.8" width="6" height="59.7" fill="#0a3270"/>
<rect x="192.18" y="500.2" width="6" height="90.3" fill="#0a3270"/>
<rect x="210.3" y="495.6" width="6" height="94.9" fill="#0a3270"/>
<rect x="228.42" y="482.9" width="6" height="107.6" fill="#0a3270"/>
<rect x="246.55" y="523.3" width="6" height="67.2" fill="#0a3270"/>
<rect x="264.67" y="514.6" width="6" height="75.9" fill="#0a3270"/>
<rect x="282.79" y="489.5" width="6" height="101" fill="#0a3270"/>
<rect x="300.92" y="474" width="6" height="116.5" fill="#0a3270"/>
<rect x="319.04" y="480.3" width="6" height="110.2" fill="#0a3270"/>
<polyline points="104.56,510.1 122.68,498.3 140.81,512.2 158.93,460.5 177.05,504.9 195.18,491.5 213.3,492.3 231.42,480.6 249.55,482.5 267.67,515.1 285.79,504.5 303.92,494.7 322.04,463" fill="none" stroke="#c4c4f0" stroke-width="1.4" stroke-linejoin="round"/>
<text transform="translate(106.56,599.5) rotate(-45)" x="0" y="0" font-size="8.3" text-anchor="end" fill="#666" font-family="'Liberation Sans','Noto Sans CJK SC',sans-serif">2020Q1</text>
<text transform="translate(124.68,599.5) rotate(-45)" x="0" y="0" font-size="8.3" text-anchor="end" fill="#666" font-family="'Liberation Sans','Noto Sans CJK SC',sans-serif">2020Q2</text>
<text transform="translate(142.81,599.5) rotate(-45)" x="0" y="0" font-size="8.3" text-anchor="end" fill="#666" font-family="'Liberation Sans','Noto Sans CJK SC',sans-serif">2020Q3</text>
<text transform="translate(160.93,599.5) rotate(-45)" x="0" y="0" font-size="8.3" text-anchor="end" fill="#666" font-family="'Liberation Sans','Noto Sans CJK SC',sans-serif">2020Q4</text>
<text transform="translate(179.05,599.5) rotate(-45)" x="0" y="0" font-size="8.3" text-anchor="end" fill="#666" font-family="'Liberation Sans','Noto Sans CJK SC',sans-serif">2021Q1</text>
<text transform="translate(197.18,599.5) rotate(-45)" x="0" y="0" font-size="8.3" text-anchor="end" fill="#666" font-family="'Liberation Sans','Noto Sans CJK SC',sans-serif">2021Q2</text>
<text transform="translate(215.3,599.5) rotate(-45)" x="0" y="0" font-size="8.3" text-anchor="end" fill="#666" font-family="'Liberation Sans','Noto Sans CJK SC',sans-serif">2021Q3</text>
<text transform="translate(233.42,599.5) rotate(-45)" x="0" y="0" font-size="8.3" text-anchor="end" fill="#666" font-family="'Liberation Sans','Noto Sans CJK SC',sans-serif">2021Q4</text>
<text transform="translate(251.55,599.5) rotate(-45)" x="0" y="0" font-size="8.3" text-anchor="end" fill="#666" font-family="'Liberation Sans','Noto Sans CJK SC',sans-serif">2022Q1</text>
<text transform="translate(269.67,599.5) rotate(-45)" x="0" y="0" font-size="8.3" text-anchor="end" fill="#666" font-family="'Liberation Sans','Noto Sans CJK SC',sans-serif">2022Q2</text>
<text transform="translate(287.79,599.5) rotate(-45)" x="0" y="0" font-size="8.3" text-anchor="end" fill="#666" font-family="'Liberation Sans','Noto Sans CJK SC',sans-serif">2022Q3</text>
<text transform="translate(305.92,599.5) rotate(-45)" x="0" y="0" font-size="8.3" text-anchor="end" fill="#666" font-family="'Liberation Sans','Noto Sans CJK SC',sans-serif">2022Q4</text>
<text transform="translate(324.04,599.5) rotate(-45)" x="0" y="0" font-size="8.3" text-anchor="end" fill="#666" font-family="'Liberation Sans','Noto Sans CJK SC',sans-serif">2023Q1</text>
<line x1="68.7" y1="629.3" x2="358.5" y2="629.3" stroke="#333" stroke-width="1"/>
<text x="69" y="644" font-size="9.6" text-anchor="start" fill="#111" font-family="'Liberation Sans','Noto Sans CJK SC',sans-serif" font-weight="normal" textLength="232.7" lengthAdjust="spacing">资料来源：公司公告、Wind、国信证券经济研究所整理</text>
<text x="372.7" y="410.4" font-size="9.4" text-anchor="start" fill="#222" font-family="'Liberation Sans','Noto Sans CJK SC',sans-serif" font-weight="500">图</text>
<text x="383.5" y="410.4" font-size="9" text-anchor="start" fill="#111" font-family="'Liberation Sans','Noto Sans CJK SC',sans-serif" font-weight="normal">8</text>
<text x="388.2" y="410.4" font-size="9" text-anchor="start" fill="#111" font-family="'Liberation Sans','Noto Sans CJK SC',sans-serif" font-weight="normal">：</text>
<text x="396.4" y="410.4" font-size="10.6" text-anchor="start" fill="#111" font-family="'Liberation Sans','Noto Sans CJK SC',sans-serif" font-weight="normal" textLength="86" lengthAdjust="spacing">公司期间费用情况</text>
<line x1="373" y1="415" x2="662.1" y2="415" stroke="#707070" stroke-width="2"/>
<line x1="435.4" y1="435.3" x2="456.2" y2="435.3" stroke="#13325e" stroke-width="1.6"/>
<text x="457" y="438.3" font-size="6.7" text-anchor="start" fill="#333" font-family="'Liberation Sans','Noto Sans CJK SC',sans-serif" font-weight="normal" textLength="40" lengthAdjust="spacing">销售费用率</text>
<line x1="435.4" y1="448.4" x2="456.2" y2="448.4" stroke="#c8c8f2" stroke-width="1.6"/>
<text x="457" y="451.4" font-size="6.7" text-anchor="start" fill="#333" font-family="'Liberation Sans','Noto Sans CJK SC',sans-serif" font-weight="normal" textLength="146" lengthAdjust="spacing">管理费用率（2017年及之前含研发费用）</text>
<line x1="435.4" y1="461.9" x2="456.2" y2="461.9" stroke="#3f68b8" stroke-width="1.6"/>
<text x="457" y="464.9" font-size="6.7" text-anchor="start" fill="#333" font-family="'Liberation Sans','Noto Sans CJK SC',sans-serif" font-weight="normal" textLength="40" lengthAdjust="spacing">财务费用率</text>
<line x1="435.4" y1="474.8" x2="456.2" y2="474.8" stroke="#7a5fa0" stroke-width="1.6"/>
<text x="457" y="477.8" font-size="6.7" text-anchor="start" fill="#333" font-family="'Liberation Sans','Noto Sans CJK SC',sans-serif" font-weight="normal" textLength="40" lengthAdjust="spacing">研发费用率</text>
<line x1="397.5" y1="463.3" x2="397.5" y2="618.28" stroke="#000" stroke-width="1"/>
<line x1="397.5" y1="463.3" x2="399.3" y2="463.3" stroke="#000" stroke-width="0.9"/>
<line x1="397.5" y1="467.73" x2="399.3" y2="467.73" stroke="#000" stroke-width="0.9"/>
<line x1="397.5" y1="472.16" x2="399.3" y2="472.16" stroke="#000" stroke-width="0.9"/>
<line x1="397.5" y1="476.58" x2="399.3" y2="476.58" stroke="#000" stroke-width="0.9"/>
<line x1="397.5" y1="481.01" x2="399.3" y2="481.01" stroke="#000" stroke-width="0.9"/>
<line x1="397.5" y1="485.44" x2="399.3" y2="485.44" stroke="#000" stroke-width="0.9"/>
<line x1="397.5" y1="489.87" x2="399.3" y2="489.87" stroke="#000" stroke-width="0.9"/>
<line x1="397.5" y1="494.3" x2="399.3" y2="494.3" stroke="#000" stroke-width="0.9"/>
<line x1="397.5" y1="498.72" x2="399.3" y2="498.72" stroke="#000" stroke-width="0.9"/>
<line x1="397.5" y1="503.15" x2="399.3" y2="503.15" stroke="#000" stroke-width="0.9"/>
<line x1="397.5" y1="507.58" x2="399.3" y2="507.58" stroke="#000" stroke-width="0.9"/>
<line x1="397.5" y1="512.01" x2="399.3" y2="512.01" stroke="#000" stroke-width="0.9"/>
<line x1="397.5" y1="516.44" x2="399.3" y2="516.44" stroke="#000" stroke-width="0.9"/>
<line x1="397.5" y1="520.86" x2="399.3" y2="520.86" stroke="#000" stroke-width="0.9"/>
<line x1="397.5" y1="525.29" x2="399.3" y2="525.29" stroke="#000" stroke-width="0.9"/>
<line x1="397.5" y1="529.72" x2="399.3" y2="529.72" stroke="#000" stroke-width="0.9"/>
<line x1="397.5" y1="534.15" x2="399.3" y2="534.15" stroke="#000" stroke-width="0.9"/>
<line x1="397.5" y1="538.58" x2="399.3" y2="538.58" stroke="#000" stroke-width="0.9"/>
<line x1="397.5" y1="543" x2="399.3" y2="543" stroke="#000" stroke-width="0.9"/>
<line x1="397.5" y1="547.43" x2="399.3" y2="547.43" stroke="#000" stroke-width="0.9"/>
<line x1="397.5" y1="551.86" x2="399.3" y2="551.86" stroke="#000" stroke-width="0.9"/>
<line x1="397.5" y1="556.29" x2="399.3" y2="556.29" stroke="#000" stroke-width="0.9"/>
<line x1="397.5" y1="560.72" x2="399.3" y2="560.72" stroke="#000" stroke-width="0.9"/>
<line x1="397.5" y1="565.14" x2="399.3" y2="565.14" stroke="#000" stroke-width="0.9"/>
<line x1="397.5" y1="569.57" x2="399.3" y2="569.57" stroke="#000" stroke-width="0.9"/>
<line x1="397.5" y1="574" x2="399.3" y2="574" stroke="#000" stroke-width="0.9"/>
<line x1="397.5" y1="578.43" x2="399.3" y2="578.43" stroke="#000" stroke-width="0.9"/>
<line x1="397.5" y1="582.86" x2="399.3" y2="582.86" stroke="#000" stroke-width="0.9"/>
<line x1="397.5" y1="587.28" x2="399.3" y2="587.28" stroke="#000" stroke-width="0.9"/>
<line x1="397.5" y1="591.71" x2="399.3" y2="591.71" stroke="#000" stroke-width="0.9"/>
<line x1="397.5" y1="596.14" x2="399.3" y2="596.14" stroke="#000" stroke-width="0.9"/>
<line x1="397.5" y1="600.57" x2="399.3" y2="600.57" stroke="#000" stroke-width="0.9"/>
<line x1="397.5" y1="605" x2="399.3" y2="605" stroke="#000" stroke-width="0.9"/>
<line x1="397.5" y1="609.42" x2="399.3" y2="609.42" stroke="#000" stroke-width="0.9"/>
<line x1="397.5" y1="613.85" x2="399.3" y2="613.85" stroke="#000" stroke-width="0.9"/>
<line x1="397.5" y1="618.28" x2="399.3" y2="618.28" stroke="#000" stroke-width="0.9"/>
<line x1="397" y1="463.3" x2="399.9" y2="463.3" stroke="#000" stroke-width="1"/>
<line x1="397" y1="485.44" x2="399.9" y2="485.44" stroke="#000" stroke-width="1"/>
<line x1="397" y1="507.58" x2="399.9" y2="507.58" stroke="#000" stroke-width="1"/>
<line x1="397" y1="529.72" x2="399.9" y2="529.72" stroke="#000" stroke-width="1"/>
<line x1="397" y1="551.86" x2="399.9" y2="551.86" stroke="#000" stroke-width="1"/>
<line x1="397" y1="574" x2="399.9" y2="574" stroke="#000" stroke-width="1"/>
<line x1="397" y1="596.14" x2="399.9" y2="596.14" stroke="#000" stroke-width="1"/>
<line x1="397" y1="618.28" x2="399.9" y2="618.28" stroke="#000" stroke-width="1"/>
<line x1="397.5" y1="574" x2="660.7" y2="574" stroke="#333" stroke-width="2"/>
<line x1="416.48" y1="574" x2="416.48" y2="571.6" stroke="#000" stroke-width="0.9"/>
<line x1="435.35" y1="574" x2="435.35" y2="571.6" stroke="#000" stroke-width="0.9"/>
<line x1="454.23" y1="574" x2="454.23" y2="571.6" stroke="#000" stroke-width="0.9"/>
<line x1="473.1" y1="574" x2="473.1" y2="571.6" stroke="#000" stroke-width="0.9"/>
<line x1="491.98" y1="574" x2="491.98" y2="571.6" stroke="#000" stroke-width="0.9"/>
<line x1="510.85" y1="574" x2="510.85" y2="571.6" stroke="#000" stroke-width="0.9"/>
<line x1="529.73" y1="574" x2="529.73" y2="571.6" stroke="#000" stroke-width="0.9"/>
<line x1="548.6" y1="574" x2="548.6" y2="571.6" stroke="#000" stroke-width="0.9"/>
<line x1="567.48" y1="574" x2="567.48" y2="571.6" stroke="#000" stroke-width="0.9"/>
<line x1="586.35" y1="574" x2="586.35" y2="571.6" stroke="#000" stroke-width="0.9"/>
<line x1="605.23" y1="574" x2="605.23" y2="571.6" stroke="#000" stroke-width="0.9"/>
<line x1="624.1" y1="574" x2="624.1" y2="571.6" stroke="#000" stroke-width="0.9"/>
<line x1="642.98" y1="574" x2="642.98" y2="571.6" stroke="#000" stroke-width="0.9"/>
<text x="390.6" y="621.18" font-size="8.2" text-anchor="end" fill="#222" font-family="'Liberation Sans','Noto Sans CJK SC',sans-serif" font-weight="normal">-4%</text>
<text x="390.6" y="599.04" font-size="8.2" text-anchor="end" fill="#222" font-family="'Liberation Sans','Noto Sans CJK SC',sans-serif" font-weight="normal">-2%</text>
<text x="390.6" y="576.9" font-size="8.2" text-anchor="end" fill="#222" font-family="'Liberation Sans','Noto Sans CJK SC',sans-serif" font-weight="normal">0%</text>
<text x="390.6" y="554.76" font-size="8.2" text-anchor="end" fill="#222" font-family="'Liberation Sans','Noto Sans CJK SC',sans-serif" font-weight="normal">2%</text>
<text x="390.6" y="532.62" font-size="8.2" text-anchor="end" fill="#222" font-family="'Liberation Sans','Noto Sans CJK SC',sans-serif" font-weight="normal">4%</text>
<text x="390.6" y="510.48" font-size="8.2" text-anchor="end" fill="#222" font-family="'Liberation Sans','Noto Sans CJK SC',sans-serif" font-weight="normal">6%</text>
<text x="390.6" y="488.34" font-size="8.2" text-anchor="end" fill="#222" font-family="'Liberation Sans','Noto Sans CJK SC',sans-serif" font-weight="normal">8%</text>
<text x="390.6" y="466.2" font-size="8.2" text-anchor="end" fill="#222" font-family="'Liberation Sans','Noto Sans CJK SC',sans-serif" font-weight="normal">10%</text>
<text x="416.48" y="586.2" font-size="8" text-anchor="middle" fill="#222" font-family="'Liberation Sans','Noto Sans CJK SC',sans-serif" font-weight="normal">2017</text>
<text x="454.23" y="586.2" font-size="8" text-anchor="middle" fill="#222" font-family="'Liberation Sans','Noto Sans CJK SC',sans-serif" font-weight="normal">2018</text>
<text x="491.98" y="586.2" font-size="8" text-anchor="middle" fill="#222" font-family="'Liberation Sans','Noto Sans CJK SC',sans-serif" font-weight="normal">2019</text>
<text x="529.73" y="586.2" font-size="8" text-anchor="middle" fill="#222" font-family="'Liberation Sans','Noto Sans CJK SC',sans-serif" font-weight="normal">2020</text>
<text x="567.48" y="586.2" font-size="8" text-anchor="middle" fill="#222" font-family="'Liberation Sans','Noto Sans CJK SC',sans-serif" font-weight="normal">2021</text>
<text x="605.23" y="586.2" font-size="8" text-anchor="middle" fill="#222" font-family="'Liberation Sans','Noto Sans CJK SC',sans-serif" font-weight="normal">2022</text>
<text x="642.98" y="586.2" font-size="8" text-anchor="middle" fill="#222" font-family="'Liberation Sans','Noto Sans CJK SC',sans-serif" font-weight="normal">2023Q1</text>
<polyline points="416.48,485.4 454.23,525.1 491.98,522.9 529.73,524.7 567.48,511 605.23,520.9 642.98,511.5" fill="none" stroke="#c8c8f2" stroke-width="1.4" stroke-linejoin="round"/>
<polyline points="416.48,504.6 454.23,509.7 491.98,502.4 529.73,522.8 567.48,524 605.23,525.8 642.98,527" fill="none" stroke="#13325e" stroke-width="1.6" stroke-linejoin="round"/>
<polyline points="454.23,532.4 491.98,528.9 529.73,528.7 567.48,527.5 605.23,532.2 642.98,514.1" fill="none" stroke="#7a5fa0" stroke-width="1.4" stroke-linejoin="round"/>
<polyline points="416.48,568.9 454.23,577.1 491.98,580.8 529.73,574.4 567.48,576.1 605.23,591.3 642.98,572.6" fill="none" stroke="#3f68b8" stroke-width="1.6" stroke-linejoin="round"/>
<line x1="372.8" y1="629.3" x2="662.1" y2="629.3" stroke="#333" stroke-width="1"/>
<text x="373" y="644" font-size="9.6" text-anchor="start" fill="#111" font-family="'Liberation Sans','Noto Sans CJK SC',sans-serif" font-weight="normal" textLength="232.7" lengthAdjust="spacing">资料来源：公司公告、Wind、国信证券经济研究所整理</text>
<line x1="69" y1="698.6" x2="662.2" y2="698.6" stroke="#8a8a8a" stroke-width="1"/>
<text x="70.6" y="716.4" font-size="9.6" text-anchor="start" fill="#222" font-family="'Liberation Sans','Noto Sans CJK SC',sans-serif" font-weight="bold">表</text>
<text x="81.4" y="716.4" font-size="9" text-anchor="start" fill="#111" font-family="'Liberation Sans','Noto Sans CJK SC',sans-serif" font-weight="normal">1</text>
<text x="86" y="716.4" font-size="9" text-anchor="start" fill="#111" font-family="'Liberation Sans','Noto Sans CJK SC',sans-serif" font-weight="normal">：</text>
<text x="93.8" y="716.4" font-size="10.6" text-anchor="start" fill="#111" font-family="'Liberation Sans','Noto Sans CJK SC',sans-serif" font-weight="normal" textLength="76.2" lengthAdjust="spacing">可比公司估值表</text>
<line x1="69" y1="721.5" x2="662.2" y2="721.5" stroke="#444" stroke-width="1"/>
<text x="69.6" y="745.2" font-size="8.6" text-anchor="start" fill="#222" font-family="'Liberation Sans','Noto Sans CJK SC',sans-serif" font-weight="bold">代码</text>
<text x="125.4" y="745.2" font-size="8.8" text-anchor="start" fill="#222" font-family="'Liberation Sans','Noto Sans CJK SC',sans-serif" font-weight="bold" textLength="36" lengthAdjust="spacing">公司简称</text>
<text x="221.7" y="746.2" font-size="8.8" text-anchor="end" fill="#222" font-family="'Liberation Sans','Noto Sans CJK SC',sans-serif" font-weight="bold">股价</text>
<text x="249.2" y="736.4" font-size="8.8" text-anchor="middle" fill="#222" font-family="'Liberation Sans','Noto Sans CJK SC',sans-serif" font-weight="bold">总市值</text>
<text x="249.2" y="754.6" font-size="8.8" text-anchor="middle" fill="#222" font-family="'Liberation Sans','Noto Sans CJK SC',sans-serif" font-weight="bold">百万元</text>
<text x="347.1" y="736.3" font-size="7.8" text-anchor="middle" fill="#444" font-family="'Liberation Sans','Noto Sans CJK SC',sans-serif" font-weight="bold">EPS</text>
<text x="514.3" y="736.3" font-size="7.8" text-anchor="middle" fill="#444" font-family="'Liberation Sans','Noto Sans CJK SC',sans-serif" font-weight="bold">PE</text>
<text x="616.6" y="736.3" font-size="7.8" text-anchor="middle" fill="#666" font-family="'Liberation Sans','Noto Sans CJK SC',sans-serif" font-weight="bold">PEG</text>
<text x="652.8" y="738.9" font-size="8.8" text-anchor="middle" fill="#222" font-family="'Liberation Sans','Noto Sans CJK SC',sans-serif" font-weight="bold">投资</text>
<text x="652.8" y="751.4" font-size="8.8" text-anchor="middle" fill="#222" font-family="'Liberation Sans','Noto Sans CJK SC',sans-serif" font-weight="bold">评级</text>
<text x="284.2" y="757" font-size="7.6" text-anchor="middle" fill="#3a3a3a" font-family="'Liberation Sans','Noto Sans CJK SC',sans-serif" font-weight="bold">21A</text>
<text x="325.8" y="757" font-size="7.6" text-anchor="middle" fill="#3a3a3a" font-family="'Liberation Sans','Noto Sans CJK SC',sans-serif" font-weight="bold">22E</text>
<text x="367.4" y="757" font-size="7.6" text-anchor="middle" fill="#3a3a3a" font-family="'Liberation Sans','Noto Sans CJK SC',sans-serif" font-weight="bold">23E</text>
<text x="409" y="757" font-size="7.6" text-anchor="middle" fill="#3a3a3a" font-family="'Liberation Sans','Noto Sans CJK SC',sans-serif" font-weight="bold">24E</text>
<text x="453.9" y="757" font-size="7.6" text-anchor="middle" fill="#3a3a3a" font-family="'Liberation Sans','Noto Sans CJK SC',sans-serif" font-weight="bold">21A</text>
<text x="495.2" y="757" font-size="7.6" text-anchor="middle" fill="#3a3a3a" font-family="'Liberation Sans','Noto Sans CJK SC',sans-serif" font-weight="bold">22E</text>
<text x="535" y="757" font-size="7.6" text-anchor="middle" fill="#3a3a3a" font-family="'Liberation Sans','Noto Sans CJK SC',sans-serif" font-weight="bold">23E</text>
<text x="576.5" y="757" font-size="7.6" text-anchor="middle" fill="#3a3a3a" font-family="'Liberation Sans','Noto Sans CJK SC',sans-serif" font-weight="bold">24E</text>
<text x="602.2 610 614.4 618.8 623.6" y="756.8" font-size="7.6" font-weight="bold" fill="#222" font-family="'Liberation Sans','Noto Sans CJK SC',sans-serif">（23E）</text>
<line x1="69" y1="762.4" x2="662.2" y2="762.4" stroke="#333" stroke-width="1"/>
<text transform="scale(0.8 1)" x="89.44 95.06 100.69 106.31 111.94 117.56 123.19 128.81 134.44" y="775" font-size="9.3" text-anchor="middle" fill="#222" font-family="'Liberation Sans','Noto Sans CJK SC',sans-serif">603757.SH</text>
<text x="125.3" y="775.1" font-size="9" text-anchor="start" fill="#222" font-family="'Liberation Sans','Noto Sans CJK SC',sans-serif" font-weight="500" textLength="36" lengthAdjust="spacing">大元泵业</text>
<text transform="scale(0.86 1)" x="236.02 240.86 245.7 250.53 255.37" y="774.7" font-size="8.8" text-anchor="middle" fill="#222" font-family="'Liberation Sans','Noto Sans CJK SC',sans-serif">29.67</text>
<text transform="scale(0.86 1)" x="298.33 303.16" y="774.7" font-size="8.8" text-anchor="middle" fill="#222" font-family="'Liberation Sans','Noto Sans CJK SC',sans-serif">49</text>
<text transform="scale(0.86 1)" x="336.67 341.51 346.35 351.19" y="774.7" font-size="8.8" text-anchor="middle" fill="#222" font-family="'Liberation Sans','Noto Sans CJK SC',sans-serif">0.87</text>
<text transform="scale(0.86 1)" x="386.33 391.16 396 400.84" y="774.7" font-size="8.8" text-anchor="middle" fill="#222" font-family="'Liberation Sans','Noto Sans CJK SC',sans-serif">1.56</text>
<text transform="scale(0.86 1)" x="434.93 439.77 444.6 449.44" y="774.7" font-size="8.8" text-anchor="middle" fill="#222" font-family="'Liberation Sans','Noto Sans CJK SC',sans-serif">1.94</text>
<text transform="scale(0.86 1)" x="482.72 487.56 492.4 497.23" y="774.7" font-size="8.8" text-anchor="middle" fill="#222" font-family="'Liberation Sans','Noto Sans CJK SC',sans-serif">2.41</text>
<text transform="scale(0.86 1)" x="536.67 541.51 546.35 551.19" y="774.7" font-size="8.8" text-anchor="middle" fill="#222" font-family="'Liberation Sans','Noto Sans CJK SC',sans-serif">33.9</text>
<text transform="scale(0.86 1)" x="581.44 586.28 591.12 595.95" y="774.7" font-size="8.8" text-anchor="middle" fill="#222" font-family="'Liberation Sans','Noto Sans CJK SC',sans-serif">19.0</text>
<text transform="scale(0.86 1)" x="629.58 634.42 639.26 644.09" y="774.7" font-size="8.8" text-anchor="middle" fill="#222" font-family="'Liberation Sans','Noto Sans CJK SC',sans-serif">15.3</text>
<text transform="scale(0.86 1)" x="678.88 683.72 688.56 693.4" y="774.7" font-size="8.8" text-anchor="middle" fill="#222" font-family="'Liberation Sans','Noto Sans CJK SC',sans-serif">12.3</text>
<text transform="scale(0.86 1)" x="726.28 731.12 735.95" y="774.7" font-size="8.8" text-anchor="middle" fill="#222" font-family="'Liberation Sans','Noto Sans CJK SC',sans-serif">0.6</text>
<text x="661.6" y="775.3" font-size="8.7" text-anchor="end" fill="#222" font-family="'Liberation Sans','Noto Sans CJK SC',sans-serif" font-weight="normal">买入</text>
<text transform="scale(0.8 1)" x="89.44 95.06 100.69 106.31 111.94 117.56 123.19 128.81 134.44" y="792.7" font-size="9.3" text-anchor="middle" fill="#222" font-family="'Liberation Sans','Noto Sans CJK SC',sans-serif">002011.SZ</text>
<text x="125.3" y="792.8" font-size="9" text-anchor="start" fill="#222" font-family="'Liberation Sans','Noto Sans CJK SC',sans-serif" font-weight="500" textLength="36" lengthAdjust="spacing">盾安环境</text>
<text transform="scale(0.86 1)" x="236.02 240.86 245.7 250.53 255.37" y="792.4" font-size="8.8" text-anchor="middle" fill="#222" font-family="'Liberation Sans','Noto Sans CJK SC',sans-serif">13.84</text>
<text transform="scale(0.86 1)" x="293.49 298.33 303.16" y="792.4" font-size="8.8" text-anchor="middle" fill="#222" font-family="'Liberation Sans','Noto Sans CJK SC',sans-serif">146</text>
<text transform="scale(0.86 1)" x="336.67 341.51 346.35 351.19" y="792.4" font-size="8.8" text-anchor="middle" fill="#222" font-family="'Liberation Sans','Noto Sans CJK SC',sans-serif">0.44</text>
<text transform="scale(0.86 1)" x="386.33 391.16 396 400.84" y="792.4" font-size="8.8" text-anchor="middle" fill="#222" font-family="'Liberation Sans','Noto Sans CJK SC',sans-serif">0.91</text>
<text transform="scale(0.86 1)" x="434.93 439.77 444.6 449.44" y="792.4" font-size="8.8" text-anchor="middle" fill="#222" font-family="'Liberation Sans','Noto Sans CJK SC',sans-serif">0.69</text>
<text transform="scale(0.86 1)" x="482.72 487.56 492.4 497.23" y="792.4" font-size="8.8" text-anchor="middle" fill="#222" font-family="'Liberation Sans','Noto Sans CJK SC',sans-serif">0.84</text>
<text transform="scale(0.86 1)" x="536.67 541.51 546.35 551.19" y="792.4" font-size="8.8" text-anchor="middle" fill="#222" font-family="'Liberation Sans','Noto Sans CJK SC',sans-serif">31.5</text>
<text transform="scale(0.86 1)" x="581.44 586.28 591.12 595.95" y="792.4" font-size="8.8" text-anchor="middle" fill="#222" font-family="'Liberation Sans','Noto Sans CJK SC',sans-serif">15.2</text>
<text transform="scale(0.86 1)" x="629.58 634.42 639.26 644.09" y="792.4" font-size="8.8" text-anchor="middle" fill="#222" font-family="'Liberation Sans','Noto Sans CJK SC',sans-serif">20.1</text>
<text transform="scale(0.86 1)" x="678.88 683.72 688.56 693.4" y="792.4" font-size="8.8" text-anchor="middle" fill="#222" font-family="'Liberation Sans','Noto Sans CJK SC',sans-serif">16.5</text>
<text transform="translate(632.3 792.4) scale(1.8 1)" x="0" y="0" font-size="8.8" text-anchor="middle" fill="#222" font-family="'Liberation Sans','Noto Sans CJK SC',sans-serif">-</text>
<text x="661.6" y="793" font-size="8.7" text-anchor="end" fill="#222" font-family="'Liberation Sans','Noto Sans CJK SC',sans-serif" font-weight="normal">买入</text>
<text transform="scale(0.8 1)" x="89.44 95.06 100.69 106.31 111.94 117.56 123.19 128.81 134.44" y="809.1" font-size="9.3" text-anchor="middle" fill="#222" font-family="'Liberation Sans','Noto Sans CJK SC',sans-serif">603366.SH</text>
<text x="125.3" y="809.2" font-size="9" text-anchor="start" fill="#222" font-family="'Liberation Sans','Noto Sans CJK SC',sans-serif" font-weight="500" textLength="36" lengthAdjust="spacing">日出东方</text>
<text transform="scale(0.86 1)" x="240.86 245.7 250.53 255.37" y="808.8" font-size="8.8" text-anchor="middle" fill="#222" font-family="'Liberation Sans','Noto Sans CJK SC',sans-serif">5.36</text>
<text transform="scale(0.86 1)" x="298.33 303.16" y="808.8" font-size="8.8" text-anchor="middle" fill="#222" font-family="'Liberation Sans','Noto Sans CJK SC',sans-serif">44</text>
<text transform="scale(0.86 1)" x="336.67 341.51 346.35 351.19" y="808.8" font-size="8.8" text-anchor="middle" fill="#222" font-family="'Liberation Sans','Noto Sans CJK SC',sans-serif">0.26</text>
<text transform="scale(0.86 1)" x="386.33 391.16 396 400.84" y="808.8" font-size="8.8" text-anchor="middle" fill="#222" font-family="'Liberation Sans','Noto Sans CJK SC',sans-serif">0.22</text>
<text transform="scale(0.86 1)" x="434.93 439.77 444.6 449.44" y="808.8" font-size="8.8" text-anchor="middle" fill="#222" font-family="'Liberation Sans','Noto Sans CJK SC',sans-serif">0.28</text>
<text transform="scale(0.86 1)" x="482.72 487.56 492.4 497.23" y="808.8" font-size="8.8" text-anchor="middle" fill="#222" font-family="'Liberation Sans','Noto Sans CJK SC',sans-serif">0.33</text>
<text transform="scale(0.86 1)" x="536.67 541.51 546.35 551.19" y="808.8" font-size="8.8" text-anchor="middle" fill="#222" font-family="'Liberation Sans','Noto Sans CJK SC',sans-serif">20.6</text>
<text transform="scale(0.86 1)" x="581.44 586.28 591.12 595.95" y="808.8" font-size="8.8" text-anchor="middle" fill="#222" font-family="'Liberation Sans','Noto Sans CJK SC',sans-serif">24.4</text>
<text transform="scale(0.86 1)" x="629.58 634.42 639.26 644.09" y="808.8" font-size="8.8" text-anchor="middle" fill="#222" font-family="'Liberation Sans','Noto Sans CJK SC',sans-serif">19.1</text>
<text transform="scale(0.86 1)" x="678.88 683.72 688.56 693.4" y="808.8" font-size="8.8" text-anchor="middle" fill="#222" font-family="'Liberation Sans','Noto Sans CJK SC',sans-serif">16.2</text>
<text transform="scale(0.86 1)" x="726.28 731.12 735.95" y="808.8" font-size="8.8" text-anchor="middle" fill="#222" font-family="'Liberation Sans','Noto Sans CJK SC',sans-serif">0.9</text>
<text x="661.6" y="809.4" font-size="8.7" text-anchor="end" fill="#222" font-family="'Liberation Sans','Noto Sans CJK SC',sans-serif" font-weight="normal">无评级</text>
<line x1="69" y1="815.4" x2="662.2" y2="815.4" stroke="#333" stroke-width="1"/>
<text x="69" y="829.2" font-size="9.6" text-anchor="start" fill="#111" font-family="'Liberation Sans','Noto Sans CJK SC',sans-serif" font-weight="normal" textLength="211" lengthAdjust="spacing">资料来源：Wind、国信证券经济研究所整理和预测</text>
<line x1="66.2" y1="948.3" x2="654.7" y2="948.3" stroke="#3d6aa5" stroke-width="1.1"/>
<text x="67.7" y="960" font-size="9.8" fill="#1f4f96" font-style="italic" font-family="'Liberation Sans','Noto Sans CJK SC',sans-serif" textLength="212.8" lengthAdjust="spacingAndGlyphs">请务必阅读正文之后的免责声明及其项下所有内容</text>
<text x="654.2" y="961.3" font-size="10.4" text-anchor="end" fill="#111" font-family="'Liberation Sans','Noto Sans CJK SC',sans-serif" font-weight="normal">3</text>
</svg>
</body></html>
